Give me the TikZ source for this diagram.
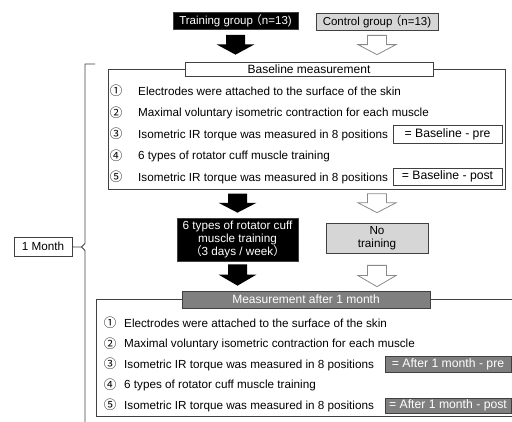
\documentclass[tikz,border=0pt]{standalone}
\usepackage{fontspec}
\setmainfont{Liberation Sans}
\newfontfamily\cjk{Noto Sans CJK JP}
\usetikzlibrary{calc}
\definecolor{ln}{HTML}{404040}
\definecolor{lgray}{HTML}{D6D6D6}
\definecolor{mgray}{HTML}{7F7F7F}
\definecolor{arrgray}{HTML}{8A8A8A}
\newcommand\blockarr[3]{%
  \path[#1] let \p1=#2, \p2=#3, \p3=($(\p1)!0.48!(\p2)$) in
  (\x1-9.5pt,\y1) -- (\x1+9.5pt,\y1) -- (\x1+9.5pt,\y3) -- (\x1+19pt,\y3)
  -- (\x1,\y2) -- (\x1-19pt,\y3) -- (\x1-9.5pt,\y3) -- cycle;}
\tikzset{
  txt/.style={font=\fontsize{11.7}{13}\selectfont, inner sep=0pt, anchor=base west},
  num/.style={font=\cjk\fontsize{12.5}{13}\selectfont, inner sep=0pt, anchor=base},
  box/.style={draw=ln, line width=0.7pt, inner sep=0pt, align=center, font=\fontsize{11.7}{13}\selectfont},
  lab/.style={box, font=\fontsize{12.2}{13}\selectfont},
  outer/.style={draw=ln, line width=0.7pt, inner sep=0pt, anchor=north west},
  blackarr/.style={fill=black},
  whitearr/.style={fill=white, draw=arrgray, line width=0.8pt, line join=miter},
  brace/.style={draw=ln, line width=0.8pt},
}
\begin{document}
\begin{tikzpicture}[x=1pt, y=-1pt]
\useasboundingbox (0,0) rectangle (512,421);
\clip (0,0) rectangle (512,421);
% top groups
\node[box, fill=black, text=white, minimum width=125, minimum height=17, font=\fontsize{11.5}{12}\selectfont] (tg) at (235.5,21) {Training group\kern-2.5pt{\cjk （}n=13)};
\node[box, fill=lgray, minimum width=122, minimum height=17, font=\fontsize{11.5}{12}\selectfont] (cg) at (377,21.5) {Control group\kern-2.5pt{\cjk （}n=13)};
% baseline section
\node[outer, minimum width=397, minimum height=120] (basebox) at (108,69) {};
\node[box, fill=white, minimum width=248, minimum height=14, font=\fontsize{12}{13}\selectfont] (basetitle) at (309,69) {Baseline measurement};
\node[num] (bn1) at (116,95.6) {①};
\node[txt] (bt1) at (138,95.2) {Electrodes were attached to the surface of the skin};
\node[num] (bn2) at (116,117.1) {②};
\node[txt] (bt2) at (138,116.7) {Maximal voluntary isometric contraction for each muscle};
\node[num] (bn3) at (116,138.6) {③};
\node[txt] (bt3) at (138,138.2) {Isometric IR torque was measured in 8 positions};
\node[num] (bn4) at (116,160.1) {④};
\node[txt] (bt4) at (138,159.7) {6 types of rotator cuff muscle training};
\node[num] (bn5) at (116,181.6) {⑤};
\node[txt] (bt5) at (138,181.2) {Isometric IR torque was measured in 8 positions};
\node[lab, fill=white, minimum width=109, minimum height=18] (bpre) at (447.5,134) {= Baseline - pre};
\node[lab, fill=white, minimum width=109, minimum height=17] (bpost) at (447.5,176.5) {= Baseline - post};
% intervention
\node[box, fill=black, text=white, minimum width=121, minimum height=43] (train2) at (237.5,239.5) {6 types of rotator cuff\\muscle training\\{\cjk （}3 days / week{\cjk ）}};
\node[box, fill=lgray, minimum width=102, minimum height=30] (notrain) at (377,238) {No\\training};
% month bracket
\node[box, fill=white, minimum width=58, minimum height=19] (month) at (43,246.5) {1 Month};
\coordinate (notch) at (81.5,247);
\draw[brace] (95,64) -- (85,64) -- (85,243.5) -- (notch) -- (85,250.5) -- (85,430);
\draw[brace] (month) -- (notch);
% after 1 month section
\node[outer, minimum width=430, minimum height=117] (mbox) at (96,299) {};
\node[box, fill=mgray, text=white, minimum width=248, minimum height=17, font=\fontsize{12}{13}\selectfont] (mtitle) at (306,299.5) {Measurement after 1 month};
\node[num] (mn1) at (110,327.6) {①};
\node[txt] (mt1) at (124,327.2) {Electrodes were attached to the surface of the skin};
\node[num] (mn2) at (110,348.1) {②};
\node[txt] (mt2) at (124,347.7) {Maximal voluntary isometric contraction for each muscle};
\node[num] (mn3) at (110,368.6) {③};
\node[txt] (mt3) at (124,368.2) {Isometric IR torque was measured in 8 positions};
\node[num] (mn4) at (110,389.1) {④};
\node[txt] (mt4) at (124,388.7) {6 types of rotator cuff muscle training};
\node[num] (mn5) at (110,409.6) {⑤};
\node[txt] (mt5) at (124,409.2) {Isometric IR torque was measured in 8 positions};
\node[lab, fill=mgray, text=white, minimum width=126, minimum height=16] (mpre) at (448,364) {= After 1 month - pre};
\node[lab, fill=mgray, text=white, minimum width=126, minimum height=15] (mpost) at (448,405.5) {= After 1 month - post};
% block arrows
\blockarr{blackarr}{($(tg.south)+(0,5)$)}{($(tg.south |- basetitle.north)+(0,-7)$)}
\blockarr{whitearr}{($(cg.south)+(0,5)$)}{($(cg.south |- basetitle.north)+(0,-7)$)}
\blockarr{blackarr}{($(train2.north |- basebox.south)+(0,4)$)}{($(train2.north)+(0,-5)$)}
\blockarr{whitearr}{($(notrain.north |- basebox.south)+(0,4)$)}{($(notrain.north)+(0,-10)$)}
\blockarr{blackarr}{($(train2.south)+(0,3)$)}{($(train2.south |- mtitle.north)+(0,-5)$)}
\blockarr{whitearr}{($(notrain.south)+(0,12)$)}{($(notrain.south |- mtitle.north)+(0,-4)$)}
\end{tikzpicture}
\end{document}
